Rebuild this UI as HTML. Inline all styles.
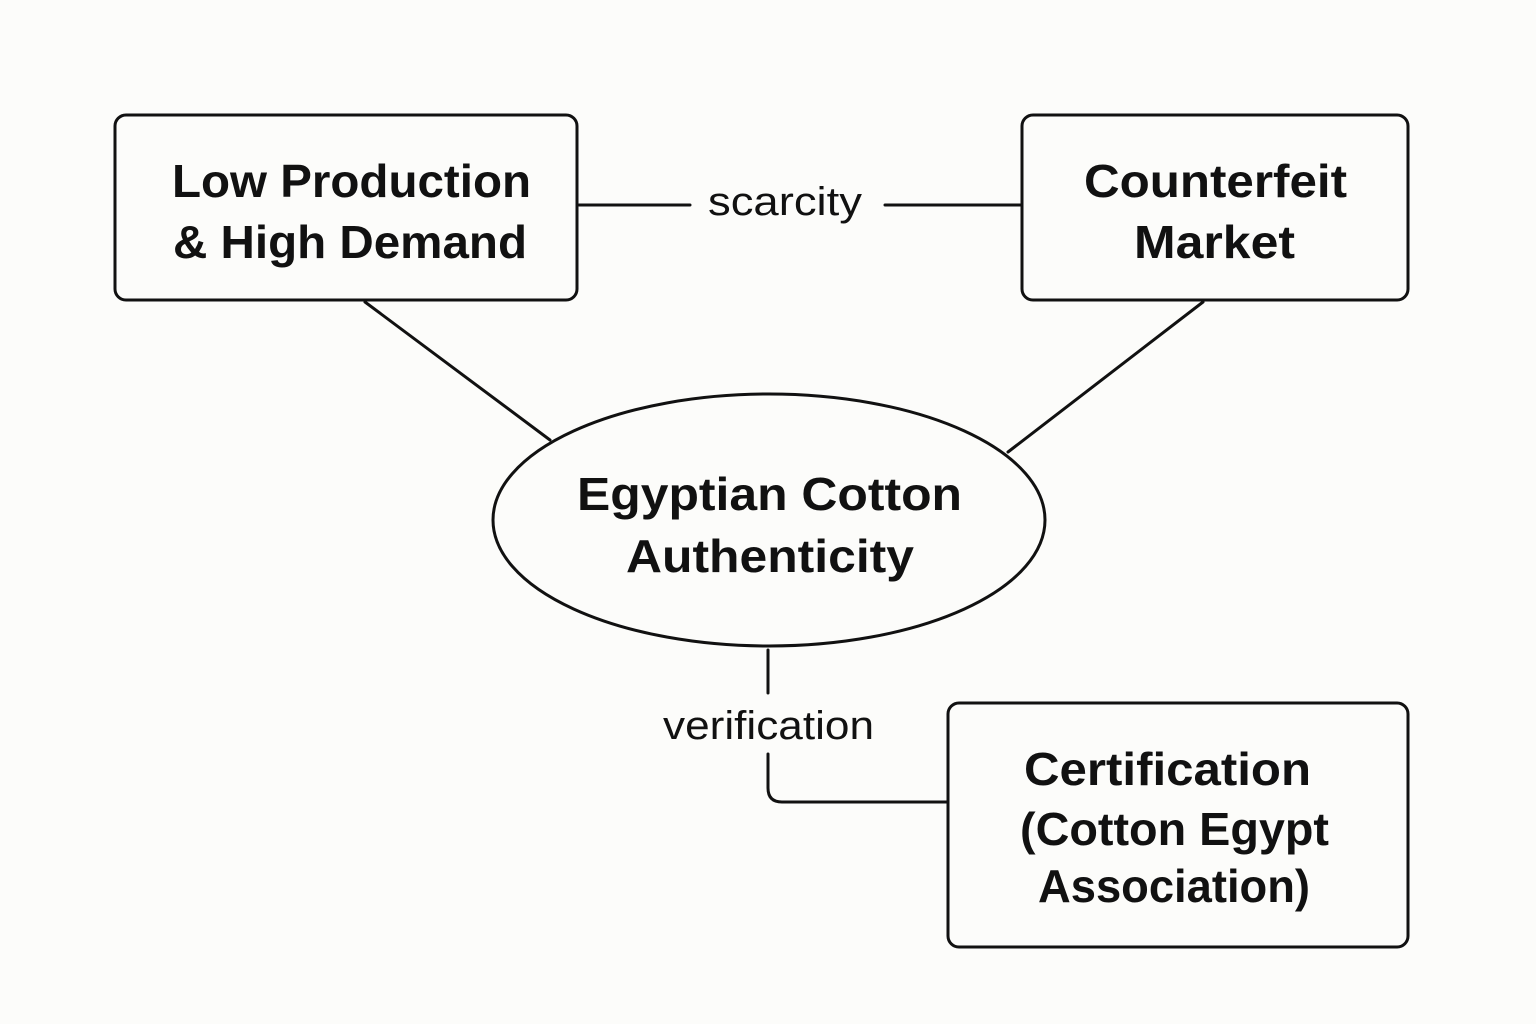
<!DOCTYPE html>
<html><head><meta charset="utf-8"><style>
html,body{margin:0;padding:0;background:#fcfcfa;}
svg{display:block;}
text{font-family:"Liberation Sans",sans-serif;fill:#111;}
.b{font-weight:bold;font-size:46px;}
.r{font-size:40px;}
</style></head><body>
<svg width="1536" height="1024" viewBox="0 0 1536 1024" xmlns="http://www.w3.org/2000/svg">
<rect width="1536" height="1024" fill="#fcfcfa"/>
<g fill="none" stroke="#111" stroke-width="3" stroke-linecap="round">
<rect x="115" y="115" width="462" height="185" rx="11"/>
<rect x="1022" y="115" width="386" height="185" rx="11"/>
<rect x="948" y="703" width="460" height="244" rx="11"/>
<ellipse cx="769" cy="520" rx="276" ry="126"/>
<line x1="579" y1="205" x2="690" y2="205"/>
<line x1="885" y1="205" x2="1022" y2="205"/>
<line x1="365" y1="302" x2="550" y2="440"/>
<line x1="1203" y1="302" x2="1008" y2="452"/>
<line x1="768" y1="650" x2="768" y2="693"/>
<path d="M768 754 V788 Q768 802 782 802 H948"/>
</g>
<text class="b" x="172" y="197" textLength="359" lengthAdjust="spacingAndGlyphs">Low Production</text>
<text class="b" x="173" y="258" textLength="354" lengthAdjust="spacingAndGlyphs">&amp; High Demand</text>
<text class="b" x="1084" y="197" textLength="263" lengthAdjust="spacingAndGlyphs">Counterfeit</text>
<text class="b" x="1134" y="258" textLength="161" lengthAdjust="spacingAndGlyphs">Market</text>
<text class="b" x="577" y="510" textLength="385" lengthAdjust="spacingAndGlyphs">Egyptian Cotton</text>
<text class="b" x="626" y="572" textLength="288" lengthAdjust="spacingAndGlyphs">Authenticity</text>
<text class="b" x="1024" y="785" textLength="287" lengthAdjust="spacingAndGlyphs">Certification</text>
<text class="b" x="1020" y="845" textLength="309" lengthAdjust="spacingAndGlyphs">(Cotton Egypt</text>
<text class="b" x="1038" y="902" textLength="272" lengthAdjust="spacingAndGlyphs">Association)</text>
<text class="r" x="708" y="215" textLength="154" lengthAdjust="spacingAndGlyphs">scarcity</text>
<text class="r" x="663" y="739" textLength="211" lengthAdjust="spacingAndGlyphs">verification</text>
</svg>
</body></html>
